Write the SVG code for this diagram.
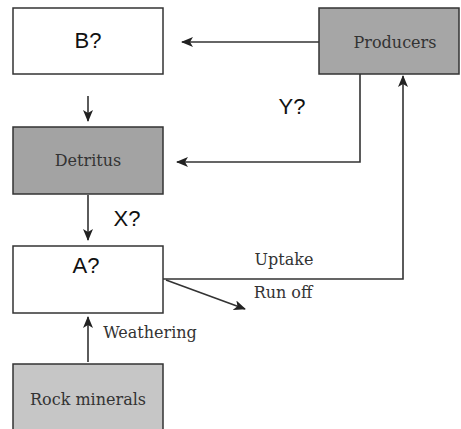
<svg xmlns="http://www.w3.org/2000/svg" width="461" height="429" viewBox="0 0 461 429">
  <style>
    .box { stroke: #333; stroke-width: 1.5; }
    .plain { fill: #fff; }
    .producers { fill: #a6a6a6; }
    .detritus { fill: #a3a3a3; }
    .rock { fill: #c6c6c6; }
    .lbl { font-family: "DejaVu Serif", serif; font-size: 16px; fill: #333; text-anchor: middle; }
    .q { font-family: "Liberation Sans", Arial, sans-serif; font-size: 22px; fill: #111; text-anchor: middle; }
    .flow { fill: none; stroke: #333; stroke-width: 1.6; }
  </style>
  <defs>
    <marker id="head" viewBox="0 0 12 10" refX="11" refY="5" markerWidth="12" markerHeight="10" markerUnits="userSpaceOnUse" orient="auto">
      <path d="M0,0 L12,5 L0,10 L3,5 Z" fill="#222"/>
    </marker>
  </defs>
  <rect width="461" height="429" fill="#fff"/>

  <g id="node-b">
    <rect class="box plain" x="13" y="8" width="150" height="66"/>
    <text class="q" x="88" y="48">B?</text>
  </g>
  <g id="node-producers">
    <rect class="box producers" x="319" y="8" width="140" height="66"/>
    <text class="lbl" x="395" y="48">Producers</text>
  </g>
  <g id="node-detritus">
    <rect class="box detritus" x="13" y="127" width="150" height="67"/>
    <text class="lbl" x="88" y="166">Detritus</text>
  </g>
  <g id="node-a">
    <rect class="box plain" x="13" y="246" width="150" height="67"/>
    <text class="q" x="86" y="273">A?</text>
  </g>
  <g id="node-rock">
    <rect class="box rock" x="13" y="364" width="150" height="70"/>
    <text class="lbl" x="88" y="405">Rock minerals</text>
  </g>

  <g id="connectors">
    <line class="flow" x1="319" y1="42" x2="182" y2="42" marker-end="url(#head)"/>
    <line class="flow" x1="88" y1="96" x2="88" y2="121" marker-end="url(#head)"/>
    <polyline class="flow" points="360,74 360,162 177,162" marker-end="url(#head)"/>
    <line class="flow" x1="88" y1="195" x2="88" y2="240" marker-end="url(#head)"/>
    <polyline class="flow" points="163,279 403,279 403,76" marker-end="url(#head)"/>
    <line class="flow" x1="166" y1="280" x2="245" y2="309" marker-end="url(#head)"/>
    <line class="flow" x1="88" y1="362" x2="88" y2="317" marker-end="url(#head)"/>
  </g>

  <g id="labels">
    <text class="q" x="292" y="114">Y?</text>
    <text class="q" x="127" y="226">X?</text>
    <text class="lbl" x="284" y="265">Uptake</text>
    <text class="lbl" x="283" y="298">Run off</text>
    <text class="lbl" x="150" y="338">Weathering</text>
  </g>
</svg>
